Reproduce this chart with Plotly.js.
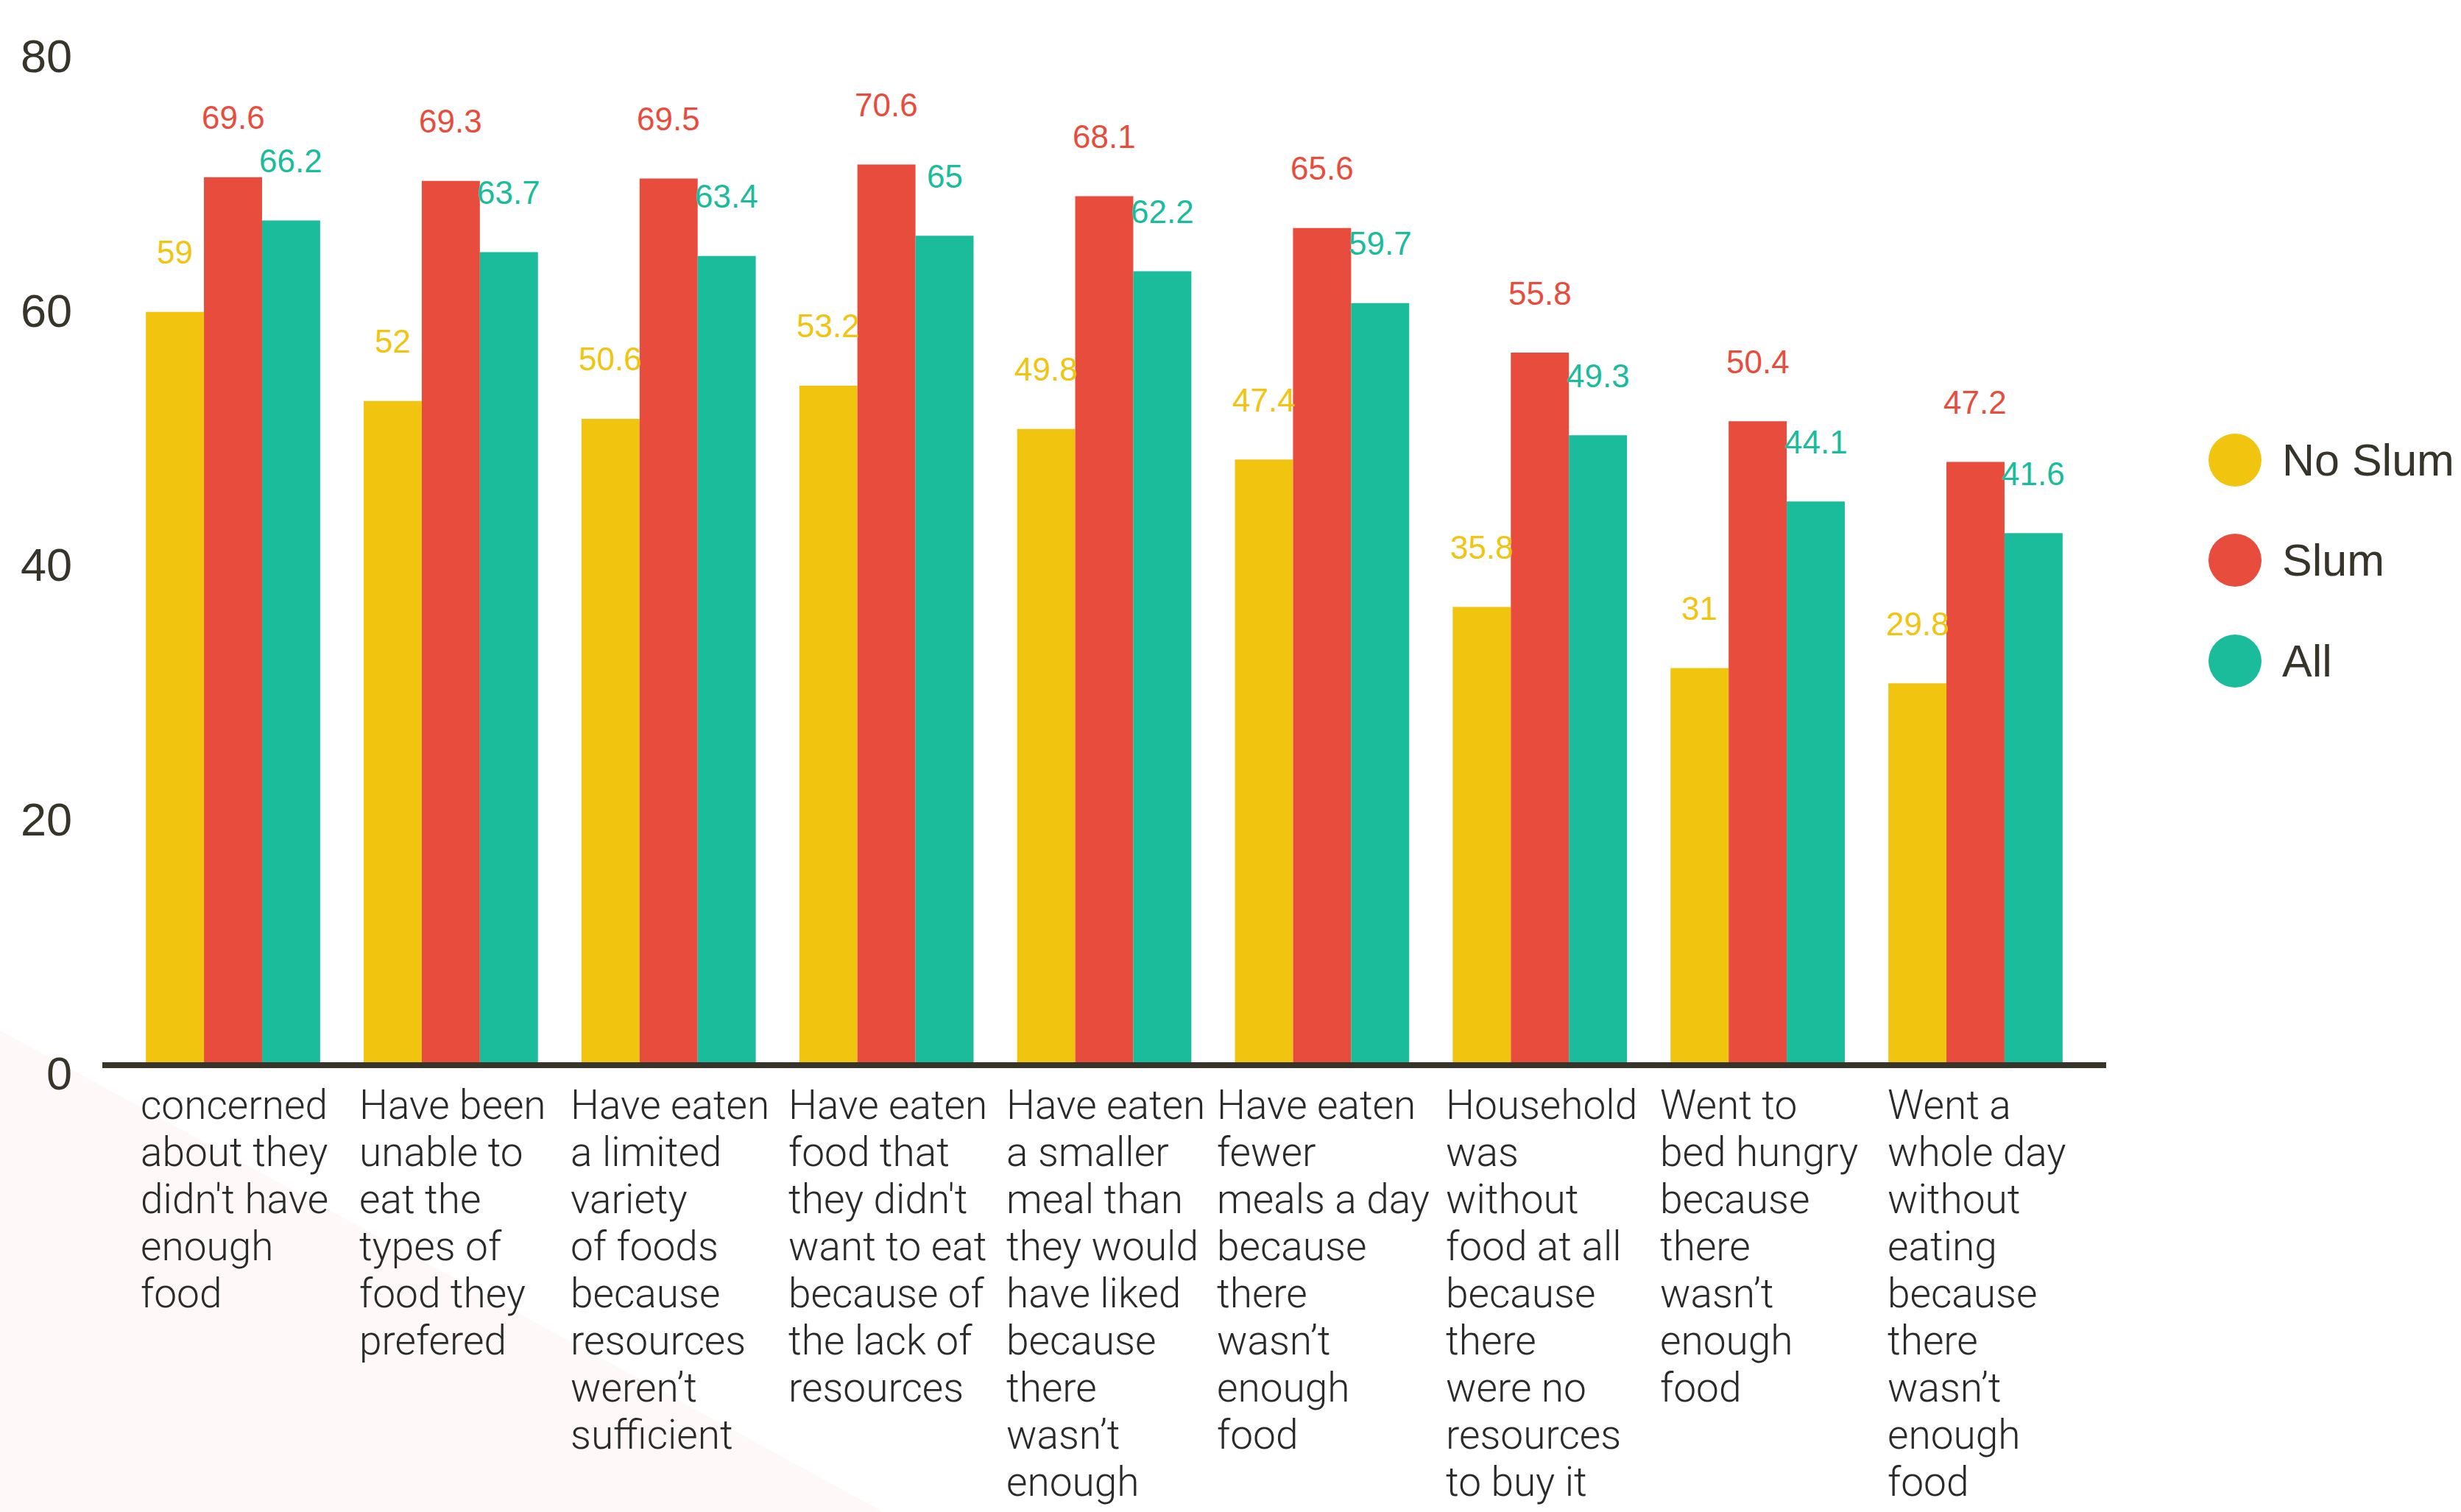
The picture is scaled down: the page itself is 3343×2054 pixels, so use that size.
<!DOCTYPE html>
<html>
<head>
<meta charset="utf-8">
<script src="https://cdn.plot.ly/plotly-3.0.1.min.js"></script>
<style>html,body{margin:0;padding:0;background:#fff;}</style>
</head>
<body>
<div id="chart" style="width:3343px;height:2054px;"></div>
<script>
// ---- data ----
const categories = [
  "concerned<br>about they<br>didn't have<br>enough<br>food",
  "Have been<br>unable to<br>eat the<br>types of<br>food they<br>prefered",
  "Have eaten<br>a limited<br>variety<br>of foods<br>because<br>resources<br>weren’t<br>sufficient",
  "Have eaten<br>food that<br>they didn't<br>want to eat<br>because of<br>the lack of<br>resources",
  "Have eaten<br>a smaller<br>meal than<br>they would<br>have liked<br>because<br>there<br>wasn’t<br>enough",
  "Have eaten<br>fewer<br>meals a day<br>because<br>there<br>wasn’t<br>enough<br>food",
  "Household<br>was<br>without<br>food at all<br>because<br>there<br>were no<br>resources<br>to buy it",
  "Went to<br>bed hungry<br>because<br>there<br>wasn’t<br>enough<br>food",
  "Went a<br>whole day<br>without<br>eating<br>because<br>there<br>wasn’t<br>enough<br>food"
];
const seriesNames = ["No Slum", "Slum", "All"];
const noSlum = [59, 52, 50.6, 53.2, 49.8, 47.4, 35.8, 31, 29.8];
const slum   = [69.6, 69.3, 69.5, 70.6, 68.1, 65.6, 55.8, 50.4, 47.2];
const all    = [66.2, 63.7, 63.4, 65, 62.2, 59.7, 49.3, 44.1, 41.6];
const yTicks = [0, 20, 40, 60, 80];

// ---- style ----
const colors = ["#F1C40F", "#E84C3D", "#1ABC9C"];
const W = 3343, H = 2054;
const M = {l: 139, r: 482, t: 61, b: 611};
const plotW = W - M.l - M.r, plotH = H - M.t - M.b;
const px2x = p => (p - M.l) / plotW;
const px2y = p => (H - M.b - p) / plotH;
const bargap = 0.2;
const barW = (1 - bargap) / 3;
const catFontSize = 55, catLineStep = 64;
const catFontFamily = "Roboto";

const series = [noSlum, slum, all];
const traces = series.map((vals, j) => ({
  type: "bar",
  name: seriesNames[j],
  x: categories,
  y: vals,
  marker: {color: colors[j]},
  showlegend: false,
  hoverinfo: "none"
}));

const annotations = [];
// value labels
series.forEach((vals, j) => {
  vals.forEach((v, i) => {
    annotations.push({
      x: i + (j - 1) * barW, y: v, xref: "x", yref: "y",
      text: String(v), showarrow: false,
      xanchor: "center", yanchor: "middle", yshift: 81,
      font: {family: "Liberation Sans, Arial, sans-serif", size: 44, color: colors[j]}
    });
  });
});

// category labels: left-aligned lines inside a block centred on the category
const ctx = document.createElement("canvas").getContext("2d");
ctx.font = `300 ${catFontSize}px ${catFontFamily}`;
categories.forEach((c, i) => {
  const lines = c.split("<br>");
  const blockW = Math.max(...lines.map(s => ctx.measureText(s).width));
  lines.forEach((line, k) => {
    annotations.push({
      x: i, y: 0, xref: "x", yref: "paper",
      text: line, showarrow: false, align: "left",
      xanchor: "left", yanchor: "top",
      xshift: -blockW / 2, yshift: -24 - k * catLineStep,
      font: {family: catFontFamily + ", sans-serif", size: catFontSize, weight: 300, color: "#2a2a2a"}
    });
  });
});

// legend
const legY = [625, 761, 898];
const shapes = [{
  type: "path", xref: "paper", yref: "paper", layer: "below",
  path: `M ${px2x(0)} ${px2y(1400)} L ${px2x(1200)} ${px2y(H)} L ${px2x(0)} ${px2y(H)} Z`,
  fillcolor: "#fef8f8", line: {width: 0}
}];
seriesNames.forEach((n, j) => {
  shapes.push({
    type: "circle", xref: "paper", yref: "paper",
    xsizemode: "pixel", ysizemode: "pixel",
    xanchor: px2x(3036), yanchor: px2y(legY[j]),
    x0: -36, x1: 36, y0: -36, y1: 36,
    fillcolor: colors[j], line: {width: 0}
  });
  annotations.push({
    x: px2x(3098), y: px2y(legY[j]), xref: "paper", yref: "paper",
    text: n, showarrow: false, xanchor: "left", yanchor: "middle",
    font: {family: "Liberation Sans, Arial, sans-serif", size: 61, color: "#37342a"}
  });
});

const layout = {
  width: W, height: H,
  margin: M,
  paper_bgcolor: "#ffffff",
  plot_bgcolor: "rgba(0,0,0,0)",
  barmode: "group",
  bargap: bargap,
  bargroupgap: 0,
  showlegend: false,
  xaxis: {
    type: "category",
    range: [-0.6, 8.6],
    showticklabels: false,
    ticks: "",
    showgrid: false,
    zeroline: false,
    showline: true,
    linecolor: "#37342a",
    linewidth: 8
  },
  yaxis: {
    range: [0, 80],
    tickvals: yTicks,
    ticktext: yTicks.map(String),
    showgrid: false,
    zeroline: false,
    showline: false,
    ticks: "",
    ticklabelstandoff: 40,
    ticklabelshift: 15,
    tickfont: {family: "Liberation Sans, Arial, sans-serif", size: 63, color: "#37342a"}
  },
  annotations: annotations,
  shapes: shapes
};

Plotly.newPlot("chart", traces, layout, {staticPlot: true, displayModeBar: false});
</script>
</body>
</html>
